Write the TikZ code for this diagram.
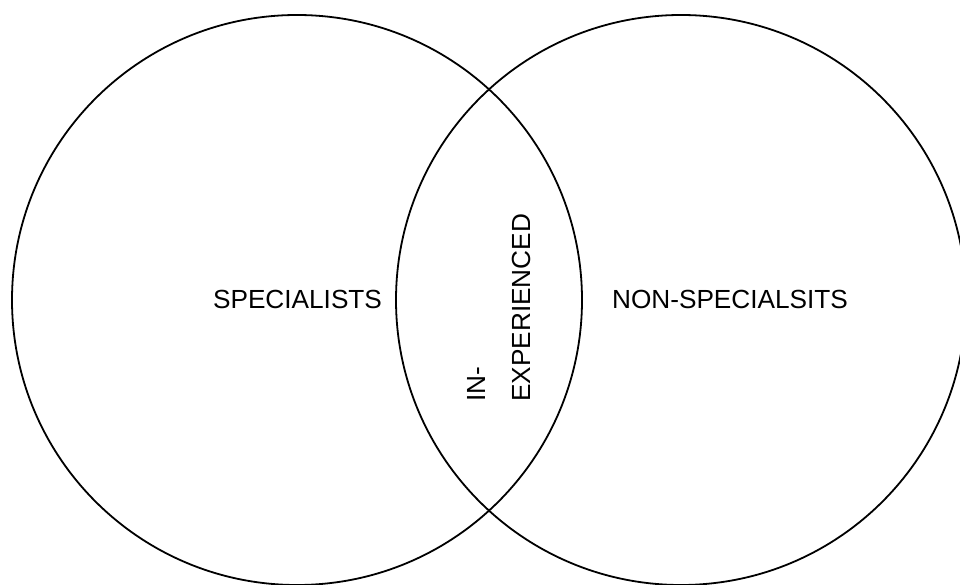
\documentclass[tikz,border=0pt]{standalone}
\usepackage{fontspec}
\setmainfont{Liberation Sans}
\usepackage{tikz}

\tikzset{
  setcircle/.style={draw, circle, line width=1.8pt, inner sep=0pt, minimum size=570pt},
  setlabel/.style={font=\fontsize{26.2}{30}\selectfont, inner sep=0pt}
}

\begin{document}
\begin{tikzpicture}[x=1pt, y=1pt]
  \useasboundingbox (0,0) rectangle (960,584);
  \clip (0,0) rectangle (960,584);
  % Sets
  \node[setcircle] (specialists) at (297,284) {};
  \node[setcircle] (nonspecialists) at (681,284) {};
  % Labels
  \node[setlabel, anchor=base] (speclabel) at (297.5,275) {SPECIALISTS};
  \node[setlabel, anchor=base] (nonspeclabel) at (730,275) {NON-SPECIALSITS};
  \node[setlabel, anchor=base west, rotate=90] (inpart) at (485,182) {IN-};
  \node[setlabel, anchor=base west, rotate=90] (exppart) at (530,182) {EXPERIENCED};
\end{tikzpicture}
\end{document}
